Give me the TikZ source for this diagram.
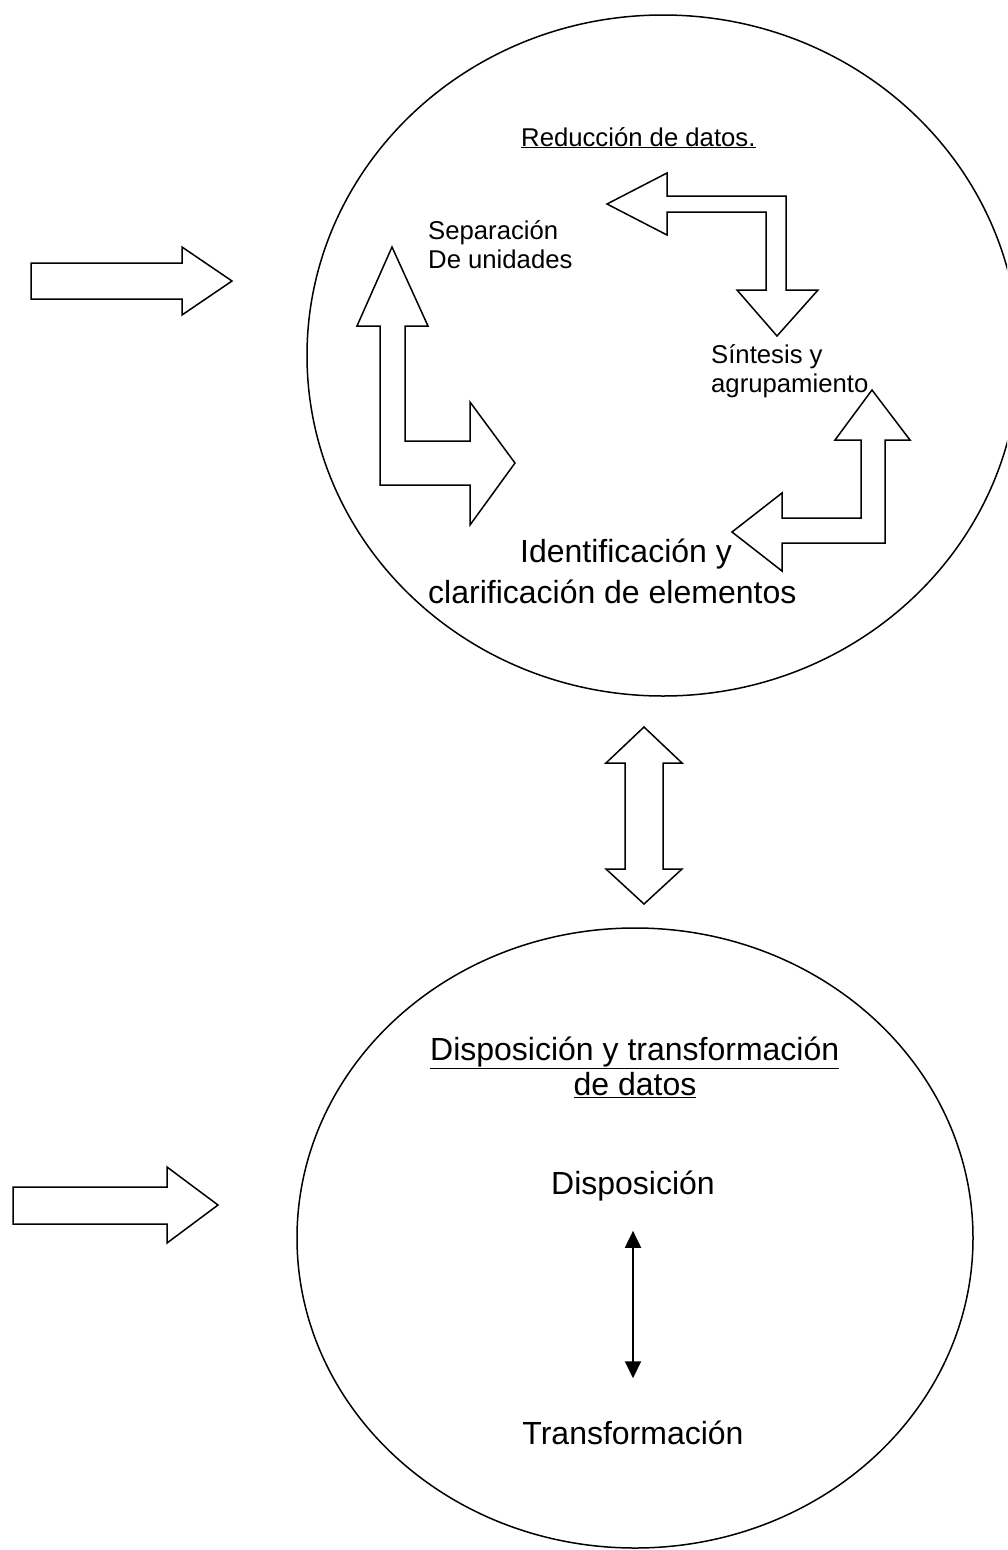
\documentclass[tikz,border=0pt]{standalone}
\usepackage{fontspec}
\setmainfont{Liberation Sans}
\usetikzlibrary{arrows.meta}

\begin{document}
\begin{tikzpicture}[x=1pt, y=-1pt,
    outline/.style={draw, line width=1.5pt, line join=miter},
    smalltxt/.style={font=\fontsize{25.7}{29}\selectfont, inner sep=0pt, anchor=base west},
    bigtxt/.style={font=\fontsize{32}{38}\selectfont, inner sep=0pt, anchor=base west},
    thinarrow/.style={line width=2pt, {Triangle[width=16pt,length=17pt]}-{Triangle[width=16pt,length=17pt]}}]
\useasboundingbox (0,0) rectangle (1007,1550);
\clip (0,0) rectangle (1007,1550);

% the two circles
\draw[outline] (663,355.5) ellipse [x radius=356, y radius=340.5];
\draw[outline] (635,1238) ellipse [x radius=338, y radius=310];

% arrows coming in from the left
\draw[outline]
(31,263) -- (182,263) -- (182,247) -- (232,281) -- (182,315) -- (182,299) -- (31,299) -- cycle;
\draw[outline]
(13,1187) -- (167,1187) -- (167,1167) -- (218,1205) -- (167,1243) -- (167,1224) -- (13,1224) -- cycle;

% cycle inside the top circle
\draw[outline]
(392,247) -- (428,326) -- (405,326) -- (405,441) -- (470,441) -- (470,402) -- (515,463)
-- (470,525) -- (470,485) -- (380,485) -- (380,326) -- (357,326) -- cycle;
\draw[outline]
(607,204) -- (667,173) -- (667,196) -- (786,196) -- (786,290) -- (818,290) -- (777,336)
-- (737,290) -- (766,290) -- (766,212) -- (667,212) -- (667,235) -- cycle;
\draw[outline]
(872,390) -- (910,440) -- (885,440) -- (885,543) -- (782,543) -- (782,571) -- (732,532)
-- (782,493) -- (782,518) -- (861,518) -- (861,440) -- (835,440) -- cycle;

% link between the circles
\draw[outline]
(644,727) -- (682,763) -- (663,763) -- (663,869) -- (682,869) -- (644,904)
-- (606,869) -- (625,869) -- (625,763) -- (606,763) -- cycle;

% labels, top circle
\node[smalltxt] (reduc) at (521,146) {\underline{Reducción de datos.}};
\node[smalltxt] (sepA) at (428,239) {Separación};
\node[smalltxt] (sepB) at (428,268) {De unidades};
\node[smalltxt] (sinA) at (711,363) {Síntesis y};
\node[smalltxt] (sinB) at (711,392) {agrupamiento};
\node[bigtxt] (idenA) at (520,562) {Identificación y};
\node[bigtxt] (idenB) at (428,603) {clarificación de elementos};

% labels, bottom circle
\node[bigtxt] (dispA) at (430,1060) {\underline{Disposición y transformación}};
\node[bigtxt, anchor=base] (dispB) at (635,1095) {\underline{de datos}};
\node[bigtxt, anchor=base] (disp) at (633,1194) {Disposición};
\node[bigtxt, anchor=base] (trans) at (633,1444) {Transformación};

\draw[thinarrow, shorten <=30pt, shorten >=42pt] (disp) -- (trans);
\end{tikzpicture}
\end{document}
